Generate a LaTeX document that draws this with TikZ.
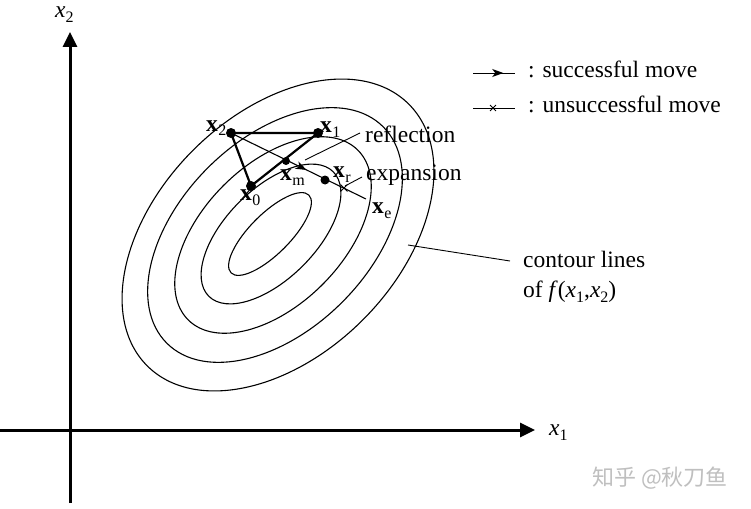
\documentclass[tikz,border=0pt]{standalone}
\usepackage{fontspec}
\setmainfont{Liberation Serif}
\newfontfamily\cjk{Noto Sans CJK SC}
\usetikzlibrary{arrows.meta,decorations.markings,shapes.misc}
\newcommand{\bvec}[1]{\textbf{x}\kern0.3pt\raisebox{-5pt}{\fontsize{16}{16}\selectfont #1}}
\newcommand{\ivar}[1]{\textit{x}\raisebox{-5pt}{\fontsize{16}{16}\selectfont #1}}
\begin{document}
\begin{tikzpicture}[x=1pt,y=-1pt,
  lbl/.style={font=\fontsize{23.5}{30}\selectfont, inner sep=0pt, anchor=base west},
  contour/.style={line width=1.1pt},
  axis/.style={line width=3pt, -{Triangle[length=15pt,width=14pt]}},
  simplex/.style={line width=2.2pt, line join=round},
  refl/.style={line width=1.1pt},
  leader/.style={line width=0.9pt},
  dot/.style={circle, fill=black, inner sep=0pt, minimum size=#1},
  xmark/.style={draw, cross out, minimum size=6pt, inner sep=0pt, line width=0.9pt},
  midarrow/.style={postaction={decorate}, decoration={markings,
     mark=at position #1 with {\arrow{Stealth[length=11pt,width=8pt,inset=3pt]}}}}]
\useasboundingbox (0,0) rectangle (751,508);

% axes
\coordinate (hstart) at (0,430);
\coordinate (htip) at (535,430);
\coordinate (vstart) at (70,503);
\coordinate (vtip) at (70,32);
\draw[axis] (hstart) -- (htip);
\draw[axis] (vstart) -- (vtip);
\node[lbl] (lx1) at (549,435) {\ivar{1}};
\node[lbl] (lx2) at (55,18) {\ivar{2}};

% contours
\foreach \cx/\cy/\a/\b in {270/234/55/20, 271/234/88/45, 273/235/120/70, 275/235/153/95, 278/235/185/120}
  \draw[contour, rotate around={45:(\cx,\cy)}] (\cx,\cy) ellipse [x radius=\a pt, y radius=\b pt];

% simplex points
\node[dot=10pt] (x2) at (231,133) {};
\node[dot=10pt] (x1) at (318,133) {};
\node[dot=10pt] (x0) at (251,186) {};
\node[dot=8pt] (xm) at (286,161) {};
\node[dot=9pt] (xr) at (325,180) {};
\coordinate (rend) at (366,199);

\draw[simplex] (x2.center) -- (x1.center) -- (x0.center) -- cycle;
\draw[refl, midarrow=0.56] (x2.center) -- (rend);
\node[xmark] (xe) at (344,188) {};

% labels of points
\node[lbl] (lbx2) at (206,131) {\bvec{2}};
\node[lbl] (lbx1) at (320,132) {\bvec{1}};
\node[lbl] (lbx0) at (240,200) {\bvec{0}};
\node[lbl] (lbxm) at (280,180) {\bvec{m}};
\node[lbl] (lbxr) at (333,177) {\bvec{r}};
\node[lbl] (lbxe) at (372,213) {\bvec{e}};

% annotations
\node[lbl] (trefl) at (365,142) {reflection};
\node[lbl] (texp) at (366,180) {expansion};
\node[lbl] (tcont) at (523,267) {contour lines};
\node[lbl] (tof) at (523,297) {of \textit{f}(\textit{x}\raisebox{-5pt}{\fontsize{16}{16}\selectfont 1},\textit{x}\raisebox{-5pt}{\fontsize{16}{16}\selectfont 2})};
\coordinate (r1) at (305,160); \coordinate (r2) at (360,133);
\coordinate (e1) at (345,186); \coordinate (e2) at (362,177);
\coordinate (c1) at (408,245); \coordinate (c2) at (510,261);
\draw[leader] (r1) -- (r2);
\draw[leader] (e1) -- (e2);
\draw[leader] (c1) -- (c2);

% legend
\coordinate (l1a) at (473,73); \coordinate (l1b) at (515,73);
\coordinate (l2a) at (473,108); \coordinate (l2b) at (515,108);
\draw[leader, midarrow=0.72] (l1a) -- (l1b);
\draw[leader] (l2a) -- (l2b);
\node[xmark, minimum size=5pt] (lx) at (493,108) {};
\node[lbl] (t1) at (528,78) {: successful move};
\node[lbl] (t2) at (528,113) {: unsuccessful move};

% watermark
\node[font=\cjk\fontsize{22}{22}\selectfont, text=black!25, inner sep=0pt] (wm) at (660,478) {知乎 @秋刀鱼};
\end{tikzpicture}
\end{document}
